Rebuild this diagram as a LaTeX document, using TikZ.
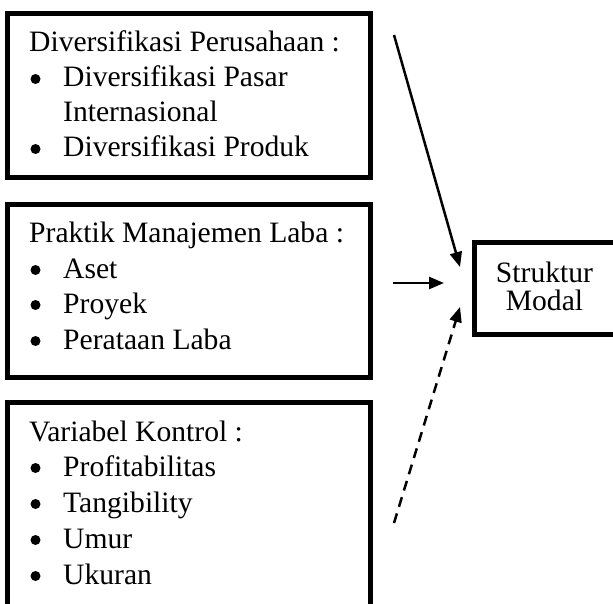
\documentclass[tikz,border=0pt]{standalone}
\usepackage{fontspec}
\setmainfont{Liberation Serif}
\usetikzlibrary{arrows.meta}
\begin{document}
\begin{tikzpicture}[x=1pt,y=-1pt,
  boxstyle/.style={draw=black,line width=5pt,inner sep=0pt},
  txt/.style={anchor=base west,inner sep=0pt,font=\fontsize{29.6}{35}\selectfont,text=black},
  ctr/.style={anchor=base,inner sep=0pt,font=\fontsize{29.6}{35}\selectfont,text=black},
  bul/.style={circle,fill=black,inner sep=0pt,minimum size=10pt},
  arr/.style={line width=2.5pt,-{Triangle[length=15pt,width=12pt]}},
  darr/.style={arr,dash pattern=on 10pt off 7pt}]
\useasboundingbox[fill=white] (0,0) rectangle (613,604);
% boxes
\draw[boxstyle] (7.5,13.5) rectangle (370.5,177.5) coordinate (b1);
\draw[boxstyle] (7.5,204.5) rectangle (370.5,377.5);
\draw[boxstyle] (7.5,402.5) rectangle (370.5,640);
\draw[boxstyle] (474.5,242.5) rectangle (640,334.5);
% box 1 text
\node[txt] (a0) at (29,52) {Diversifikasi Perusahaan :};
\node[bul] (a1b) at (35.5,79) {};
\node[txt] (a1) at (63,87) {Diversifikasi Pasar};
\node[txt] (a2) at (63,122) {Internasional};
\node[bul] (a3b) at (35.5,149) {};
\node[txt] (a3) at (63,157) {Diversifikasi Produk};
% box 2 text
\node[txt] (p0) at (29,242) {Praktik Manajemen Laba :};
\node[bul] (p1b) at (35.5,270) {};
\node[txt] (p1) at (63,278) {Aset};
\node[bul] (p2b) at (35.5,305) {};
\node[txt] (p2) at (63,313) {Proyek};
\node[bul] (p3b) at (35.5,341) {};
\node[txt] (p3) at (63,349) {Perataan Laba};
% box 3 text
\node[txt] (v0) at (29,441) {Variabel Kontrol :};
\node[bul] (v1b) at (35.5,468) {};
\node[txt] (v1) at (63,476) {Profitabilitas};
\node[bul] (v2b) at (35.5,504) {};
\node[txt] (v2) at (63,512) {Tangibility};
\node[bul] (v3b) at (35.5,540) {};
\node[txt] (v3) at (63,548) {Umur};
\node[bul] (v4b) at (35.5,576) {};
\node[txt] (v4) at (63,584) {Ukuran};
% struktur modal
\node[ctr] (s1) at (544.5,282) {Struktur};
\node[ctr] (s2) at (544.5,310) {Modal};
% arrows
\coordinate (t1s) at (394,35);
\coordinate (t1e) at (460,267);
\coordinate (t2s) at (393,283);
\coordinate (t2e) at (444,283);
\coordinate (t3s) at (394,523);
\coordinate (t3e) at (460,307);
\draw[arr] (t1s) -- (t1e);
\draw[arr] (t2s) -- (t2e);
\draw[darr] (t3s) -- (t3e);
\end{tikzpicture}
\end{document}
